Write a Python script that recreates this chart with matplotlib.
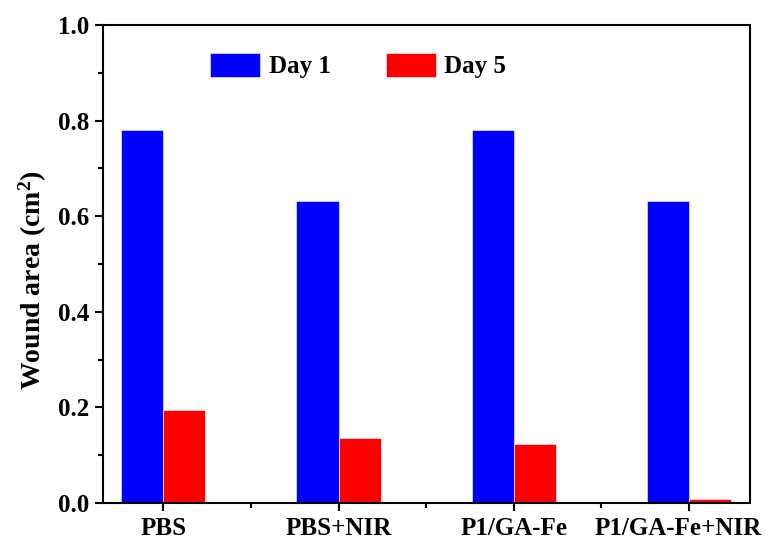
import matplotlib.pyplot as plt
import numpy as np
from matplotlib.ticker import MultipleLocator
from matplotlib.transforms import ScaledTranslation

groups = ['PBS', 'PBS+NIR', 'P1/GA-Fe', 'P1/GA-Fe+NIR']
day1 = [0.78, 0.632, 0.78, 0.632]
day5 = [0.194, 0.137, 0.123, 0.008]

plt.rcParams['font.family'] = ['Liberation Serif', 'DejaVu Serif']
plt.rcParams['font.weight'] = 'bold'
plt.rcParams['mathtext.fontset'] = 'custom'
plt.rcParams['mathtext.rm'] = 'Liberation Serif:bold'
plt.rcParams['mathtext.default'] = 'rm'

fig = plt.figure(figsize=(7.66, 5.39), dpi=100)
ax = fig.add_axes([103/766, 1-503/539, (750-103)/766, (503-25)/539])

x = np.arange(len(groups))
w = 0.24
ax.bar(x - w/2, day1, w, color='#0000ff', edgecolor='white', linewidth=0.4, label='Day 1')
ax.bar(x + w/2, day5, w, color='#ff0000', edgecolor='white', linewidth=0.4, label='Day 5')

ax.set_xlim(-0.345, 3.35)
ax.set_ylim(0, 1.0)
ax.set_xticks(x)
ax.set_xticklabels(groups)
ax.xaxis.set_minor_locator(MultipleLocator(1, offset=0.5))
ax.yaxis.set_major_locator(MultipleLocator(0.2))
ax.yaxis.set_minor_locator(MultipleLocator(0.1))
ax.yaxis.set_major_formatter(plt.FormatStrFormatter('%.1f'))

for s in ax.spines.values():
    s.set_linewidth(1.5)
ax.tick_params(which='major', length=6, width=1.5, labelsize=18, pad=4)
ax.tick_params(which='minor', length=3.5, width=1.5)
for lab in ax.get_xticklabels() + ax.get_yticklabels():
    lab.set_fontweight('bold')
# last label sits a little left of its tick, as in the original
last = ax.get_xticklabels()[-1]
last.set_transform(last.get_transform() + ScaledTranslation(-11/100, 0, fig.dpi_scale_trans))

ax.set_ylabel('Wound area (cm$^2$)', fontsize=20, fontweight='bold')
ax.yaxis.set_label_coords(-0.083, 0.466)
ax.legend(ncol=2, frameon=False, fontsize=18, loc='upper left', bbox_to_anchor=(0.146, 0.968),
          borderpad=0, handlelength=2.0, handleheight=1.1, columnspacing=2.2, handletextpad=0.35)

plt.savefig('out.png', dpi=100)
